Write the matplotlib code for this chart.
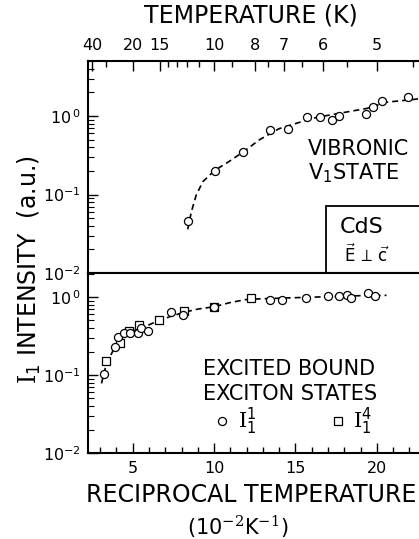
import numpy as np
import matplotlib
matplotlib.use('Agg')
import matplotlib.pyplot as plt
from matplotlib.patches import Rectangle
from matplotlib.ticker import NullFormatter, LogLocator

plt.rcParams['font.family'] = ['DejaVu Sans']
plt.rcParams['mathtext.fontset'] = 'custom'
plt.rcParams['mathtext.rm'] = 'DejaVu Serif'
plt.rcParams['mathtext.sf'] = 'DejaVu Sans'
plt.rcParams['mathtext.it'] = 'DejaVu Sans:italic'

# vibronic V1 state (upper panel)
vib_x = [8.40, 10.04, 11.78, 13.46, 14.55, 15.74, 16.49, 17.27, 17.68, 19.36, 19.77, 20.35, 21.92]
vib_y = [0.046, 0.20, 0.35, 0.66, 0.68, 0.98, 0.96, 0.89, 1.01, 1.06, 1.31, 1.55, 1.76]
vib_fit_x = [8.38, 8.6, 8.9, 9.3, 10.0, 11.0, 11.8, 12.8, 14.0, 15.0, 16.0, 17.0, 18.1, 19.4, 20.6, 22.2, 23.0]
vib_fit_y = [0.036, 0.06, 0.098, 0.145, 0.20, 0.27, 0.35, 0.50, 0.69, 0.80, 0.93, 1.02, 1.12, 1.25, 1.50, 1.62, 1.70]

# excited bound exciton states (lower panel)
i11_x = [3.26, 3.91, 4.12, 4.49, 4.86, 5.31, 5.51, 5.92, 7.35, 8.11, 10.02,
         13.46, 14.2, 15.65, 17.03, 17.7, 18.17, 18.42, 19.44, 19.86]
i11_y = [0.102, 0.226, 0.31, 0.35, 0.35, 0.35, 0.40, 0.37, 0.64, 0.59, 0.74,
         0.92, 0.92, 0.98, 1.03, 1.03, 1.06, 0.96, 1.11, 1.04]
i14_x = [3.36, 4.22, 4.75, 5.37, 6.64, 8.18, 10.02, 12.27]
i14_y = [0.15, 0.26, 0.37, 0.44, 0.51, 0.67, 0.74, 0.98]
exc_fit_x = [3.08, 3.3, 3.6, 3.9, 4.2, 4.6, 5.2, 5.9, 6.6, 7.4, 8.2, 9.0, 10.0,
             11.0, 12.0, 13.0, 15.0, 17.0, 19.0, 20.6]
exc_fit_y = [0.078, 0.12, 0.17, 0.23, 0.28, 0.33, 0.38, 0.43, 0.50, 0.57, 0.64, 0.70, 0.75,
             0.85, 0.93, 0.95, 0.98, 1.01, 1.04, 1.05]

# axis ticks
temp_major = [40, 20, 15, 10, 8, 7, 6, 5]
temp_minor = [30, 14, 13, 12, 11, 9, 7.5, 6.5, 5.5, 4.5]
recip_major = [5, 10, 15, 20]
recip_minor = list(range(3, 24))
decades = [1e-2, 1e-1, 1e0]
decade_labels = [r'$\mathregular{10^{-2}}$', r'$\mathregular{10^{-1}}$', r'$\mathregular{10^{\,0}}$']

W, H = 419, 539


def fx(x):
    return x / W


def fy(y):
    return 1 - y / H


fig = plt.figure(figsize=(W / 100, H / 100), dpi=100)
xmin, xmax = 2.25, 24.0
axw = (xmax - xmin) * 16.27 / W
ax1 = fig.add_axes([fx(88), fy(273), axw, (273 - 61) / H])
ax2 = fig.add_axes([fx(88), fy(453), axw, (453 - 273) / H])

fit_style = dict(color='k', lw=1.2, ls=(0, (3.6, 2.4)), zorder=2)
mk = dict(ls='none', mfc='white', mec='k', mew=0.9, zorder=3)

ax1.plot(vib_fit_x, vib_fit_y, **fit_style)
ax1.plot(vib_x, vib_y, marker='o', ms=5.8, **mk)

ax2.plot(exc_fit_x, exc_fit_y, **fit_style)
h14, = ax2.plot(i14_x, i14_y, marker='s', ms=5.8, **mk)
h11, = ax2.plot(i11_x, i11_y, marker='o', ms=5.8, **mk)

for ax, top in ((ax1, 10 ** ((116 - 61) / 78.5)), (ax2, 10 ** ((297 - 273) / 78.0))):
    ax.set_yscale('log')
    ax.set_xlim(xmin, xmax)
    ax.set_ylim(1e-2, top)
    ax.set_yticks(decades)
    ax.set_yticklabels(decade_labels)
    ax.yaxis.set_minor_locator(LogLocator(base=10, subs=np.arange(2, 10)))
    ax.yaxis.set_minor_formatter(NullFormatter())
    ax.tick_params(axis='y', which='both', direction='in', right=False, labelsize=11.5, pad=5)
    ax.tick_params(axis='y', which='major', length=7, width=1)
    ax.tick_params(axis='y', which='minor', length=4, width=0.8)
    for s in ax.spines.values():
        s.set_linewidth(1.5)

# top axis: temperature
ax1.set_xticks([100 / t for t in temp_major])
ax1.set_xticklabels([str(t) for t in temp_major])
ax1.set_xticks([100 / t for t in temp_minor], minor=True)
ax1.tick_params(axis='x', which='both', direction='in', bottom=False, top=True,
                labelbottom=False, labeltop=True, labelsize=11.5, pad=6)
ax1.tick_params(axis='x', which='major', length=7, width=1)
ax1.tick_params(axis='x', which='minor', length=4, width=1)

# bottom axis: reciprocal temperature
ax2.set_xticks(recip_major)
ax2.set_xticks(recip_minor, minor=True)
ax2.tick_params(axis='x', which='both', direction='in', top=False, bottom=True,
                labelsize=11.5, pad=6)
ax2.tick_params(axis='x', which='major', length=7, width=1)
ax2.tick_params(axis='x', which='minor', length=4, width=1)

# CdS box
ax1.add_patch(Rectangle((fx(326), fy(273)), 0.5, (273 - 206) / H, transform=fig.transFigure,
                        fill=False, ec='k', lw=1.3, clip_on=False))
fig.text(fx(340), fy(233), 'CdS', fontsize=16, va='baseline')
fig.text(fx(344), fy(262), r'$\vec{\mathsf{E}}\,\perp\,\vec{\mathsf{c}}$', fontsize=12, va='baseline')

# panel texts
fig.text(fx(308), fy(155), 'VIBRONIC', fontsize=15, va='baseline')
fig.text(fx(308), fy(179), r'V$_{\mathsf{1}}$STATE', fontsize=15, va='baseline')
fig.text(fx(203), fy(375), 'EXCITED BOUND', fontsize=15, va='baseline')
fig.text(fx(203), fy(400), 'EXCITON STATES', fontsize=15, va='baseline')

fig.legend(handles=[h11, h14], labels=[r'$\mathrm{I}_{\mathsf{1}}^{\mathsf{1}}$', r'$\mathrm{I}_{\mathsf{1}}^{\mathsf{4}}$'],
           ncol=2, frameon=False, loc='center left', bbox_to_anchor=(fx(212), fy(421)),
           bbox_transform=fig.transFigure, fontsize=15, handlelength=1.0, handletextpad=0.25,
           columnspacing=3.4, borderpad=0, borderaxespad=0, markerscale=1.0, numpoints=1)

# axis titles
fig.text(fx(251), fy(15), 'TEMPERATURE (K)', fontsize=17, ha='center', va='center')
fig.text(fx(251), fy(495), 'RECIPROCAL TEMPERATURE', fontsize=17, ha='center', va='center')
fig.text(fx(238), fy(527), r'(10$^{-2}$K$^{-1}$)', fontsize=15, ha='center', va='center')
fig.text(fx(29), fy(270), r'$\mathrm{I}_{\mathsf{1}}$ INTENSITY  (a.u.)', fontsize=17,
         rotation=90, ha='center', va='center')

fig.savefig('out.png', dpi=100)
